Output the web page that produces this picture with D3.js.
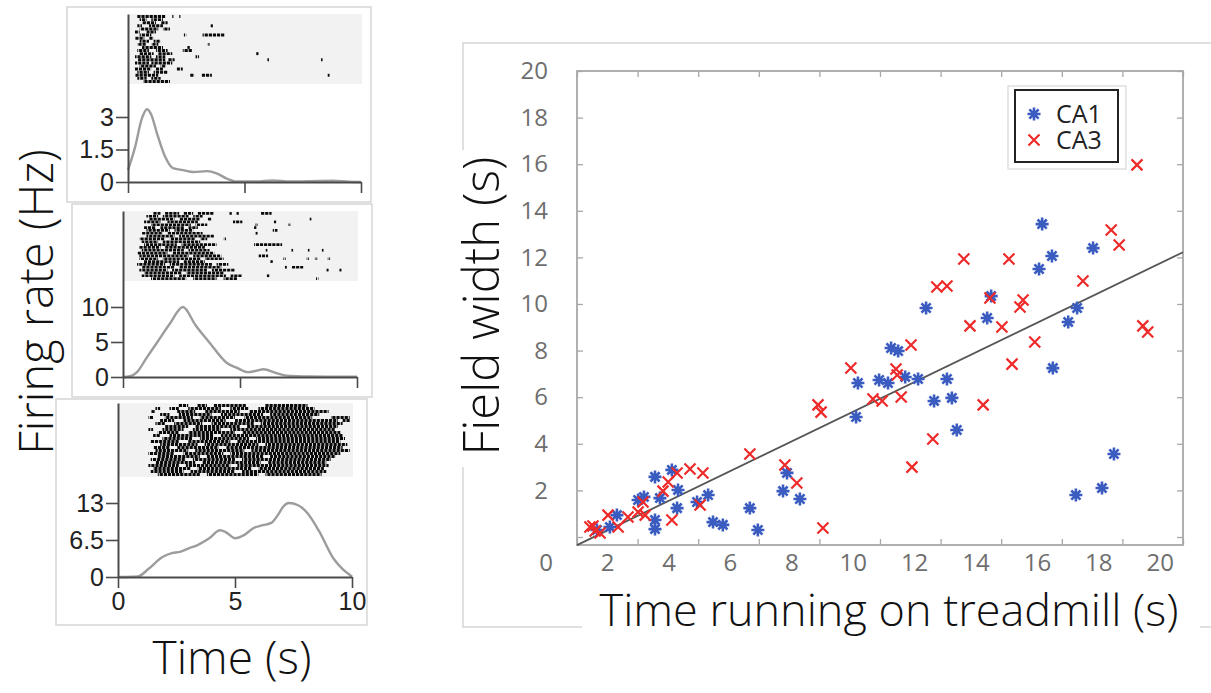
<!DOCTYPE html>
<html>
<head>
<meta charset="utf-8">
<script src="https://cdn.jsdelivr.net/npm/d3@7"></script>
<style>
  body { margin: 0; background: #fff; }
  svg { display: block; }
</style>
</head>
<body>
<svg id="chart" width="1211" height="693"></svg>
<script>
// ---------- data: firing rate curves (Hz) ----------
var rateTimes1 = [0, 0.3, 0.6, 0.82, 1.0, 1.24, 1.6, 1.93, 2.36, 2.8, 3.4, 3.8, 4.25, 4.6, 5.5, 6.2, 7, 8.2, 8.8, 9.5, 10];
var rateValues1 = [0.55, 1.6, 2.95, 3.36, 3.1, 2.26, 1.15, 0.64, 0.55, 0.46, 0.5, 0.4, 0.15, 0.03, 0.02, 0.07, 0.02, 0.05, 0.06, 0.01, 0];

var rateTimes2 = [0, 0.3, 0.6, 1.0, 1.45, 2.0, 2.56, 3.1, 3.7, 4.44, 4.87, 5.34, 5.7, 6.0, 6.55, 7.0, 8, 9, 10];
var rateValues2 = [0, 0.1, 0.7, 2.7, 4.9, 7.6, 10, 7.4, 4.9, 2.0, 1.3, 0.7, 0.9, 1.1, 0.55, 0.2, 0.08, 0.05, 0.03];

var rateTimes3 = [0, 0.85, 1.3, 1.9, 2.3, 2.65, 3.0, 3.4, 3.9, 4.36, 4.6, 5.0, 5.4, 5.8, 6.2, 6.55, 6.85, 7.05, 7.3, 7.7, 8.1, 8.6, 9.2, 9.6, 9.9, 10];
var rateValues3 = [0, 0.1, 1.4, 3.5, 4.2, 4.4, 5.0, 5.6, 6.8, 8.2, 7.9, 6.8, 7.4, 8.6, 9.1, 9.5, 11.0, 12.3, 13.0, 12.6, 11.2, 8.0, 3.3, 1.4, 0.4, 0.1];

var rateTicks1 = [0, 1.5, 3];
var rateTicks2 = [0, 5, 10];
var rateTicks3 = [0, 6.5, 13];
var timeTicks = [0, 5, 10];

// ---------- data: spike rasters, one list of [start, end] bursts (s) per trial ----------
var raster1 = [
  [[0.4, 1.6], [1.9, 1.95], [2.2, 2.25]],
  [[0.5, 0.8], [1.0, 1.5]],
  [[0.6, 1.2], [1.4, 1.7]],
  [[0.4, 0.6], [0.9, 1.5], [3.55, 3.65]],
  [[0.5, 1.3], [1.5, 1.8]],
  [[0.3, 0.5], [0.8, 1.2]],
  [[0.5, 1.0], [2.4, 2.5], [3.2, 4.15]],
  [[0.3, 0.7], [0.9, 1.1]],
  [[0.5, 0.9], [1.1, 1.4]],
  [[0.4, 0.8], [1.0, 1.3], [3.4, 3.5]],
  [[0.6, 1.5], [2.55, 2.65]],
  [[0.4, 0.9], [1.2, 1.7], [2.35, 2.75]],
  [[0.5, 1.1], [1.3, 1.9], [5.5, 5.6]],
  [[0.3, 1.0], [1.2, 1.6], [2.9, 3.05]],
  [[0.4, 1.6], [1.7, 2.0], [5.95, 6.05], [8.25, 8.35]],
  [[0.3, 0.9], [1.0, 1.9]],
  [[0.5, 1.2], [1.4, 1.6]],
  [[0.3, 1.0], [1.2, 1.5], [2.1, 2.35]],
  [[0.4, 0.9], [1.1, 1.7]],
  [[0.3, 1.3], [2.65, 2.85], [3.15, 3.6], [8.55, 8.65]],
  [[0.4, 0.8], [1.0, 1.4]],
  [[0.65, 1.8]]
];

var raster2 = [
  [[1.3, 1.6], [1.8, 2.4], [2.6, 3.0], [3.2, 3.9], [4.55, 4.65], [4.85, 4.95], [5.9, 6.35]],
  [[1.0, 1.5], [1.7, 2.8], [3.0, 3.4]],
  [[1.1, 2.2], [2.4, 3.3], [3.6, 3.8], [7.95, 8.05]],
  [[0.9, 1.6], [1.9, 3.2], [4.7, 5.1], [6.45, 6.55]],
  [[1.2, 2.9], [3.1, 3.6], [5.65, 5.75], [7.05, 7.15]],
  [[0.9, 1.4], [1.6, 2.6], [2.8, 3.2], [5.6, 5.7]],
  [[1.0, 2.0], [2.2, 3.0], [6.4, 6.6]],
  [[0.8, 1.7], [1.9, 3.4], [5.65, 5.75]],
  [[1.0, 2.2], [2.4, 3.9]],
  [[0.7, 1.8], [2.0, 3.1], [3.3, 3.6], [4.3, 4.4]],
  [[0.8, 1.5], [1.7, 3.3]],
  [[0.9, 2.3], [2.5, 4.0], [5.6, 6.8]],
  [[0.7, 1.6], [1.8, 3.5]],
  [[0.8, 2.6], [2.8, 3.7], [6.1, 6.2], [7.2, 7.3], [7.9, 8.0], [8.5, 8.6]],
  [[0.6, 1.9], [2.1, 3.9]],
  [[0.7, 2.8], [3.0, 4.2], [5.8, 6.2]],
  [[0.7, 1.5], [1.7, 3.3], [3.5, 4.3], [6.85, 6.95], [7.85, 7.95], [8.2, 8.3], [8.75, 8.85]],
  [[0.9, 2.4], [2.6, 3.5], [6.3, 6.4]],
  [[0.6, 1.8], [2.0, 3.8], [4.0, 4.5]],
  [[0.8, 2.2], [2.4, 4.2], [6.9, 7.0], [7.2, 7.7]],
  [[0.7, 1.9], [2.1, 3.6], [3.8, 4.8], [8.7, 8.8], [9.25, 9.35]],
  [[0.9, 2.5], [2.7, 4.3]],
  [[0.8, 2.2], [2.4, 4.4], [4.6, 5.1], [6.15, 6.25]],
  [[1.2, 2.7], [3.0, 4.0], [4.3, 4.9], [8.25, 8.35]]
];

var raster3 = [
  [[2.6, 3.0], [3.4, 3.8], [4.1, 5.5], [6.3, 8.1]],
  [[1.6, 1.8], [2.2, 2.6], [3.0, 4.4], [4.8, 5.6], [6.0, 8.4]],
  [[1.4, 1.6], [2.5, 3.3], [3.7, 5.2], [5.6, 9.0]],
  [[1.8, 2.2], [2.6, 4.0], [4.4, 6.2], [6.5, 8.6]],
  [[1.3, 1.5], [2.0, 3.2], [3.5, 5.0], [5.4, 8.3], [9.1, 9.9]],
  [[1.8, 2.4], [2.8, 4.6], [5.0, 9.4], [9.6, 9.9]],
  [[1.6, 2.0], [2.4, 3.6], [4.0, 5.8], [6.1, 9.6]],
  [[2.0, 3.0], [3.3, 5.2], [5.5, 9.4]],
  [[1.3, 1.5], [1.9, 2.8], [3.2, 4.4], [4.8, 9.3]],
  [[1.7, 2.6], [3.0, 5.0], [5.3, 9.5]],
  [[1.5, 1.8], [2.2, 4.1], [4.4, 9.6]],
  [[1.9, 3.2], [3.5, 5.6], [5.9, 9.7]],
  [[1.4, 2.6], [3.0, 4.8], [5.1, 9.5]],
  [[1.8, 3.4], [3.7, 6.0], [6.3, 9.8]],
  [[1.5, 2.2], [2.5, 4.3], [4.6, 9.6]],
  [[1.6, 3.0], [3.3, 5.4], [5.7, 9.9]],
  [[1.3, 2.4], [2.8, 4.5], [4.8, 9.5]],
  [[1.7, 3.5], [3.8, 6.2], [6.5, 9.3]],
  [[1.4, 2.9], [3.2, 5.0], [5.3, 9.1]],
  [[1.6, 3.3], [3.6, 6.1], [6.4, 8.9]],
  [[1.3, 2.6], [2.9, 4.8], [5.1, 9.0]],
  [[1.5, 3.1], [3.4, 5.7], [6.0, 8.8]],
  [[1.4, 2.8], [3.1, 5.0], [5.3, 8.9]],
  [[1.7, 3.5], [3.8, 6.0], [6.3, 8.7]]
];

// ---------- data: field width vs time on treadmill ----------
var ca1Time = [1.67, 2.09, 2.32, 3.01, 3.20, 3.56, 3.72, 3.56, 3.56, 4.11, 4.31, 4.28, 4.93, 5.29, 5.45, 5.77, 6.65, 6.91, 7.73, 7.86, 8.28,
  10.11, 10.17, 10.86, 11.15, 11.25, 11.48, 11.71, 12.13, 12.39, 12.65, 13.07, 13.23, 13.39, 14.38, 14.51, 16.07, 16.17, 16.49, 16.52,
  17.02, 17.31, 17.27, 17.83, 18.12, 18.51];
var ca1Width = [0.30, 0.43, 0.94, 1.59, 1.72, 2.58, 1.67, 0.73, 0.34, 2.88, 2.02, 1.24, 1.50, 1.80, 0.64, 0.52, 1.24, 0.30, 1.97, 2.75, 1.63,
  5.15, 6.61, 6.74, 6.61, 8.11, 7.98, 6.87, 6.78, 9.83, 5.84, 6.78, 5.97, 4.59, 9.40, 10.34, 11.50, 13.43, 12.06, 7.25,
  9.23, 9.83, 1.80, 12.40, 2.10, 3.56];

var ca3Time = [1.44, 1.61, 1.77, 1.54, 2.03, 2.36, 2.68, 3.01, 3.24, 3.17, 3.82, 3.99, 4.28, 4.11, 4.70, 5.12, 5.03, 6.65, 7.79, 8.18,
  8.87, 8.97, 9.03, 9.94, 10.66, 10.96, 11.41, 11.45, 11.58, 11.90, 11.93, 12.61, 12.74, 13.07, 13.62, 13.82, 14.25, 14.47, 14.86,
  15.09, 15.19, 15.45, 15.55, 15.93, 17.50, 18.42, 18.68, 19.26, 19.45, 19.61];
var ca3Width = [0.43, 0.26, 0.17, 0.47, 0.94, 0.43, 0.86, 1.07, 0.94, 1.50, 1.97, 2.36, 2.75, 0.73, 2.92, 2.75, 1.37, 3.56, 3.09, 2.32,
  5.67, 5.36, 0.39, 7.25, 5.92, 5.84, 7.21, 6.95, 6.01, 8.24, 3.00, 4.21, 10.73, 10.77, 11.93, 9.06, 5.67, 10.26, 9.01,
  11.93, 7.42, 9.87, 10.17, 8.37, 10.99, 13.18, 12.53, 15.97, 9.06, 8.80];

var fitSlope = 0.637;
var fitIntercept = -1.0;

var scatterTicks = [0, 2, 4, 6, 8, 10, 12, 14, 16, 18, 20];
var seriesNames = ["CA1", "CA3"];

// ---------- setup ----------
var svg = d3.select("#chart");
var frameColor = "#cfcfcf";
var titleFont = "'Open Sans', sans-serif";

// light picture frames around the pasted panels
var frames = [
  [67, 7, 371, 202],
  [72, 204, 372, 397],
  [56, 399, 367, 625],
  [463, 43, 1240, 627]
];
svg.selectAll("rect.frame")
  .data(frames)
  .enter()
  .append("rect")
  .attr("class", "frame")
  .attr("x", function (d) { return d[0]; })
  .attr("y", function (d) { return d[1]; })
  .attr("width", function (d) { return d[2] - d[0]; })
  .attr("height", function (d) { return d[3] - d[1]; })
  .attr("fill", "none")
  .attr("stroke", frameColor)
  .attr("stroke-width", 1.3);

// ---------- left: raster + rate panels ----------
var panels = [
  { raster: raster1, times: rateTimes1, values: rateValues1, ticks: rateTicks1,
    x0: 128, x1: 361, rTop: 14, rBottom: 84, y0: 182, yTickVal: 3, yTickPos: 117, labels: false },
  { raster: raster2, times: rateTimes2, values: rateValues2, ticks: rateTicks2,
    x0: 123, x1: 357, rTop: 211, rBottom: 281, y0: 377, yTickVal: 10, yTickPos: 307, labels: false },
  { raster: raster3, times: rateTimes3, values: rateValues3, ticks: rateTicks3,
    x0: 118, x1: 352, rTop: 403, rBottom: 477, y0: 577, yTickVal: 13, yTickPos: 503, labels: true }
];

panels.forEach(function (p) {
  var g = svg.append("g");

  var x = d3.scaleLinear().domain([0, 10]).range([p.x0, p.x1]);
  var perUnit = (p.y0 - p.yTickPos) / p.yTickVal;
  var y = d3.scaleLinear().domain([0, (p.y0 - p.rTop) / perUnit]).range([p.y0, p.rTop]);

  // raster background
  g.append("rect")
    .attr("x", x(0) + 1)
    .attr("y", p.rTop)
    .attr("width", x(10) - x(0))
    .attr("height", p.rBottom - p.rTop)
    .attr("fill", "#f2f2f2");

  var rows = d3.scaleBand()
    .domain(d3.range(p.raster.length))
    .range([p.rTop + 1, p.rBottom - 1]);

  var bursts = [];
  p.raster.forEach(function (trial, i) {
    trial.forEach(function (b) { bursts.push({ row: i, t0: b[0], t1: b[1] }); });
  });

  g.selectAll("line.spk")
    .data(bursts)
    .enter()
    .append("line")
    .attr("class", "spk")
    .attr("x1", function (d) { return x(d.t0); })
    .attr("x2", function (d) { return x(d.t1); })
    .attr("y1", function (d) { return rows(d.row) + rows.bandwidth() / 2; })
    .attr("y2", function (d) { return rows(d.row) + rows.bandwidth() / 2; })
    .attr("stroke", "#0a0a0a")
    .attr("stroke-width", rows.bandwidth() * 0.95)
    .attr("stroke-dasharray", "3.2 0.9")
    .attr("stroke-dashoffset", function (d) { return (d.row * 1.7) % 4.1; });

  // rate curve
  var pts = p.times.map(function (t, i) { return [t, p.values[i]]; });
  var line = d3.line()
    .x(function (d) { return x(d[0]); })
    .y(function (d) { return y(d[1]); })
    .curve(d3.curveMonotoneX);

  g.append("path")
    .datum(pts)
    .attr("d", line)
    .attr("fill", "none")
    .attr("stroke", "#9c9c9c")
    .attr("stroke-width", 2.4);

  // axes
  var yAxis = d3.axisLeft(y)
    .tickValues(p.ticks)
    .tickFormat(function (d) { return d; })
    .tickSizeInner(12)
    .tickSizeOuter(0)
    .tickPadding(2);

  var xAxis = d3.axisBottom(x)
    .tickValues(timeTicks)
    .tickFormat(p.labels ? function (d) { return d; } : "")
    .tickSizeInner(11)
    .tickSizeOuter(0)
    .tickPadding(4);

  var gy = g.append("g")
    .attr("transform", "translate(" + p.x0 + ",0)")
    .call(yAxis);
  var gx = g.append("g")
    .attr("transform", "translate(0," + p.y0 + ")")
    .call(xAxis);

  [gy, gx].forEach(function (ax) {
    ax.select(".domain").attr("stroke", "#4a4a4a").attr("stroke-width", 2);
    ax.selectAll(".tick line").attr("stroke", "#4a4a4a").attr("stroke-width", 1.6);
    ax.selectAll(".tick text")
      .attr("font-family", "'Liberation Sans', Arial, sans-serif")
      .attr("font-size", 25)
      .attr("fill", "#222");
  });
});

svg.append("text")
  .attr("transform", "translate(53,302) rotate(-90)")
  .attr("text-anchor", "middle")
  .attr("font-family", titleFont)
  .attr("font-weight", 300)
  .attr("font-size", 47)
  .attr("fill", "#111")
  .text("Firing rate (Hz)");

svg.append("text")
  .attr("x", 232)
  .attr("y", 674)
  .attr("text-anchor", "middle")
  .attr("font-family", titleFont)
  .attr("font-weight", 300)
  .attr("font-size", 46)
  .attr("fill", "#111")
  .text("Time (s)");

// ---------- right: scatter ----------
var box = { left: 577, right: 1183, top: 71, bottom: 545 };

var xS = d3.scaleLinear().domain([0, 20]).range([545.7, 1159.7]);
var yS = d3.scaleLinear().domain([0, 20]).range([537, 71]);
var frameX = d3.scaleLinear().domain([0, 10]).range([box.left, box.right]);

var sg = svg.append("g");

sg.append("rect")
  .attr("x", box.left)
  .attr("y", box.top)
  .attr("width", box.right - box.left)
  .attr("height", box.bottom - box.top)
  .attr("fill", "#fff")
  .attr("stroke", "#a8a8a8")
  .attr("stroke-width", 1.8);

function tickStyle(ax) {
  ax.select(".domain").remove();
  ax.selectAll(".tick line").attr("stroke", "#a8a8a8").attr("stroke-width", 1.3);
  ax.selectAll(".tick text")
    .attr("font-family", "'Open Sans', sans-serif")
    .attr("font-size", 24)
    .attr("fill", "#6e6e6e");
}

sg.append("g").attr("transform", "translate(0," + box.top + ")")
  .call(d3.axisTop(frameX).ticks(10).tickSizeInner(-6).tickSizeOuter(0).tickFormat(""))
  .call(tickStyle);
sg.append("g").attr("transform", "translate(0," + box.bottom + ")")
  .call(d3.axisBottom(frameX).ticks(10).tickSizeInner(-6).tickSizeOuter(0).tickFormat(""))
  .call(tickStyle);
sg.append("g").attr("transform", "translate(" + box.right + ",0)")
  .call(d3.axisRight(yS).tickValues(scatterTicks).tickSizeInner(-6).tickSizeOuter(0).tickFormat(""))
  .call(tickStyle);
sg.append("g").attr("transform", "translate(" + box.left + ",0)")
  .call(d3.axisLeft(yS).tickValues(scatterTicks).tickSizeInner(-6).tickSizeOuter(0).tickPadding(29)
    .tickFormat(function (d) { return d === 0 ? "" : d; }))
  .call(tickStyle);

// x labels sit on their own baseline under the box
sg.append("g").attr("transform", "translate(0," + box.bottom + ")")
  .call(d3.axisBottom(xS).tickValues(scatterTicks).tickSize(0).tickPadding(9))
  .call(tickStyle);

// regression line
var fitX = [xS.invert(box.left), xS.invert(box.right)];
sg.append("line")
  .attr("x1", xS(fitX[0]))
  .attr("y1", yS(fitSlope * fitX[0] + fitIntercept))
  .attr("x2", xS(fitX[1]))
  .attr("y2", yS(fitSlope * fitX[1] + fitIntercept))
  .attr("stroke", "#555")
  .attr("stroke-width", 1.8);

var starPath = "M-6.5,0L6.5,0M0,-6.5L0,6.5M-4.6,-4.6L4.6,4.6M-4.6,4.6L4.6,-4.6";
var crossPath = "M-5.5,-5.5L5.5,5.5M-5.5,5.5L5.5,-5.5";
var blue = "#3a5bbf";
var red = "#ee2a2a";

var ca1 = ca1Time.map(function (t, i) { return [t, ca1Width[i]]; });
var ca3 = ca3Time.map(function (t, i) { return [t, ca3Width[i]]; });

sg.selectAll("path.ca1")
  .data(ca1)
  .enter()
  .append("path")
  .attr("class", "ca1")
  .attr("d", starPath)
  .attr("transform", function (d) { return "translate(" + xS(d[0]) + "," + yS(d[1]) + ")"; })
  .attr("fill", "none")
  .attr("stroke", blue)
  .attr("stroke-width", 2.6);

sg.selectAll("path.ca3")
  .data(ca3)
  .enter()
  .append("path")
  .attr("class", "ca3")
  .attr("d", crossPath)
  .attr("transform", function (d) { return "translate(" + xS(d[0]) + "," + yS(d[1]) + ")"; })
  .attr("fill", "none")
  .attr("stroke", red)
  .attr("stroke-width", 2.2);

// legend
var lg = sg.append("g");
lg.append("rect")
  .attr("x", 1008).attr("y", 86).attr("width", 118).attr("height", 83)
  .attr("fill", "#fff").attr("stroke", "#d0d0d0").attr("stroke-width", 1);
lg.append("rect")
  .attr("x", 1015).attr("y", 90).attr("width", 103).attr("height", 72)
  .attr("fill", "#fff").attr("stroke", "#222").attr("stroke-width", 2);
seriesNames.forEach(function (name, i) {
  var yy = 114 + i * 26;
  lg.append("path")
    .attr("d", i === 0 ? starPath : crossPath)
    .attr("transform", "translate(1034," + yy + ")")
    .attr("fill", "none")
    .attr("stroke", i === 0 ? blue : red)
    .attr("stroke-width", i === 0 ? 2.6 : 2.2);
  lg.append("text")
    .attr("x", 1056)
    .attr("y", yy + 9)
    .attr("font-family", "'Open Sans', sans-serif")
    .attr("font-size", 25)
    .attr("fill", "#222")
    .text(name);
});

// axis titles, with white boxes that cut the picture frame like in the slide
svg.append("rect").attr("x", 455).attr("y", 150).attr("width", 52).attr("height", 317).attr("fill", "#fff");
svg.append("text")
  .attr("transform", "translate(499,306) rotate(-90)")
  .attr("text-anchor", "middle")
  .attr("font-family", titleFont)
  .attr("font-weight", 300)
  .attr("font-size", 49)
  .attr("fill", "#111")
  .text("Field width (s)");

svg.append("rect").attr("x", 582).attr("y", 588).attr("width", 618).attr("height", 55).attr("fill", "#fff");
svg.append("text")
  .attr("x", 889)
  .attr("y", 626)
  .attr("text-anchor", "middle")
  .attr("font-family", titleFont)
  .attr("font-weight", 300)
  .attr("font-size", 45)
  .attr("fill", "#111")
  .text("Time running on treadmill (s)");
</script>
</body>
</html>
